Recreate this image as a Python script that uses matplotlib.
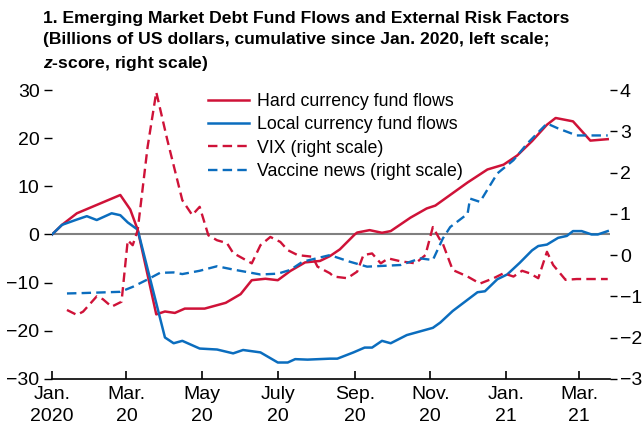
import numpy as np
import pandas as pd
import matplotlib
matplotlib.use("Agg")
import matplotlib.pyplot as plt
import matplotlib.dates as mdates

plt.rcParams['font.family'] = ['Liberation Sans', 'DejaVu Sans']
plt.rcParams['mathtext.fontset'] = 'custom'
plt.rcParams['mathtext.bfit'] = 'Liberation Sans:bold:italic'
plt.rcParams['mathtext.it'] = 'Liberation Sans:italic'

# hard currency fund flows (billions USD, left scale)
hard_dates = ["2020-01-01", "2020-01-09", "2020-01-21", "2020-02-25", "2020-03-04", "2020-03-10",
              "2020-03-25", "2020-04-01", "2020-04-09", "2020-04-17", "2020-05-03", "2020-05-20",
              "2020-06-01", "2020-06-10", "2020-06-21", "2020-07-01", "2020-07-11", "2020-07-23",
              "2020-08-04", "2020-08-12", "2020-08-20", "2020-09-01", "2020-09-03", "2020-09-13",
              "2020-09-23", "2020-09-30", "2020-10-16", "2020-10-29", "2020-11-05", "2020-12-01",
              "2020-12-17", "2020-12-30", "2021-01-10", "2021-01-22", "2021-02-03", "2021-02-10",
              "2021-02-24", "2021-03-10", "2021-03-24"]
hard_vals = [0, 2.0, 4.4, 8.2, 5.2, 1.0,
             -16.6, -16.0, -16.3, -15.4, -15.4, -14.2,
             -12.4, -9.5, -9.2, -9.5, -7.6, -5.8,
             -5.5, -4.5, -3.1, 0.0, 0.4, 0.9,
             0.35, 0.7, 3.5, 5.4, 6.0, 10.8,
             13.5, 14.5, 16.4, 19.4, 22.8, 24.2,
             23.5, 19.5, 19.8]

# local currency fund flows (billions USD, left scale)
local_dates = ["2020-01-01", "2020-01-09", "2020-01-21", "2020-01-29", "2020-02-06", "2020-02-18",
               "2020-02-25", "2020-03-02", "2020-03-10", "2020-04-01", "2020-04-08", "2020-04-15",
               "2020-04-29", "2020-05-13", "2020-05-26", "2020-06-03", "2020-06-17", "2020-07-01",
               "2020-07-09", "2020-07-15", "2020-07-25", "2020-08-12", "2020-08-18", "2020-08-31",
               "2020-09-09", "2020-09-15", "2020-09-23", "2020-09-30", "2020-10-13", "2020-11-03",
               "2020-11-09", "2020-11-19", "2020-12-09", "2020-12-15", "2020-12-25", "2021-01-02",
               "2021-01-12", "2021-01-22", "2021-01-27", "2021-02-03", "2021-02-12", "2021-02-19",
               "2021-02-24", "2021-03-03", "2021-03-11", "2021-03-16", "2021-03-24"]
local_vals = [0, 2.0, 3.1, 3.8, 3.0, 4.4,
              4.0, 2.5, 1.0, -21.4, -22.6, -22.1,
              -23.7, -23.9, -24.7, -24.0, -24.5, -26.6,
              -26.6, -25.9, -26.0, -25.8, -25.8, -24.5,
              -23.5, -23.5, -22.1, -22.6, -20.9, -19.4,
              -18.3, -15.9, -12.0, -11.8, -9.3, -8.3,
              -5.9, -3.3, -2.4, -2.1, -0.7, -0.3,
              0.7, 0.7, 0.0, 0.0, 0.7]

# VIX (z-score, right scale)
vix_dates = ["2020-01-13", "2020-01-21", "2020-01-26", "2020-02-06", "2020-02-11", "2020-02-18",
             "2020-02-26", "2020-03-02", "2020-03-06", "2020-03-10", "2020-03-18", "2020-03-25",
             "2020-04-03", "2020-04-15", "2020-04-23", "2020-04-29", "2020-05-06", "2020-05-13",
             "2020-05-21", "2020-05-26", "2020-06-10", "2020-06-17", "2020-06-25", "2020-07-03",
             "2020-07-09", "2020-07-17", "2020-07-29", "2020-08-02", "2020-08-12", "2020-08-15",
             "2020-08-26", "2020-09-03", "2020-09-08", "2020-09-15", "2020-09-22", "2020-09-28",
             "2020-10-08", "2020-10-20", "2020-10-28", "2020-11-03", "2020-11-09", "2020-11-11",
             "2020-11-19", "2020-12-01", "2020-12-11", "2020-12-22", "2020-12-30", "2021-01-07",
             "2021-01-14", "2021-01-20", "2021-01-27", "2021-02-03", "2021-02-08", "2021-02-18",
             "2021-02-27", "2021-03-24"]
vix_vals = [-1.33, -1.45, -1.37, -1.0, -1.07, -1.25,
            -1.13, 0.36, 0.24, 0.6, 2.62, 3.95,
            2.78, 1.33, 0.97, 1.17, 0.48, 0.36,
            0.29, 0.05, -0.2, 0.24, 0.44, 0.32,
            0.12, 0.0, -0.04, -0.28, -0.44, -0.52,
            -0.56, -0.4, 0.0, 0.04, -0.2, -0.08,
            -0.15, -0.2, 0.0, 0.68, 0.36, 0.28,
            -0.36, -0.52, -0.69, -0.56, -0.44, -0.52,
            -0.38, -0.44, -0.56, 0.08, -0.24, -0.6,
            -0.58, -0.58]

# vaccine news (z-score, right scale)
vac_dates = ["2020-01-13", "2020-01-26", "2020-02-25", "2020-03-06", "2020-03-18", "2020-03-28",
             "2020-04-08", "2020-04-15", "2020-04-29", "2020-05-13", "2020-05-26", "2020-06-17",
             "2020-07-01", "2020-07-11", "2020-07-21", "2020-08-12", "2020-08-28", "2020-09-11",
             "2020-10-08", "2020-10-24", "2020-11-03", "2020-11-11", "2020-11-17", "2020-12-01",
             "2020-12-03", "2020-12-11", "2020-12-25", "2021-01-07", "2021-01-18", "2021-02-03",
             "2021-02-12", "2021-02-27", "2021-03-10", "2021-03-24"]
vac_vals = [-0.93, -0.92, -0.89, -0.77, -0.59, -0.43,
            -0.42, -0.46, -0.38, -0.27, -0.35, -0.47,
            -0.45, -0.36, -0.16, 0.0, -0.16, -0.28,
            -0.24, -0.08, -0.12, 0.40, 0.68, 1.0,
            1.37, 1.29, 1.98, 2.3, 2.7, 3.19,
            3.07, 2.9, 2.9, 2.9]

tick_dates = ["2020-01-01", "2020-03-01", "2020-05-01", "2020-07-01",
              "2020-09-01", "2020-11-01", "2021-01-01", "2021-03-01"]
tick_labels = ["Jan.\n2020", "Mar.\n20", "May\n20", "July\n20",
               "Sep.\n20", "Nov.\n20", "Jan.\n21", "Mar.\n21"]

red = "#CF1238"
blue = "#0B6DBE"

fig = plt.figure(figsize=(6.43, 4.33), dpi=100)
ax = fig.add_axes([0.081, 0.125, 0.868, 0.667])
ax2 = ax.twinx()

ax.axhline(0, color="#808080", lw=1.5, zorder=1)
l1, = ax.plot(pd.to_datetime(hard_dates), hard_vals, color=red, lw=1.8, label="Hard currency fund flows")
l2, = ax.plot(pd.to_datetime(local_dates), local_vals, color=blue, lw=1.8, label="Local currency fund flows")
l3, = ax2.plot(pd.to_datetime(vix_dates), vix_vals, color=red, lw=1.7, dashes=(4, 2.2), label="VIX (right scale)")
l4, = ax2.plot(pd.to_datetime(vac_dates), vac_vals, color=blue, lw=1.7, dashes=(4, 2.2), label="Vaccine news (right scale)")

ax.set_xlim(pd.Timestamp("2020-01-01"), pd.Timestamp("2021-03-26"))
ax.set_ylim(-30, 30)
ax2.set_ylim(-3, 4)
ax.set_yticks([-30, -20, -10, 0, 10, 20, 30])
ax.set_yticklabels(["\u221230", "\u221220", "\u221210", "0", "10", "20", "30"])
ax2.set_yticks([-3, -2, -1, 0, 1, 2, 3, 4])
ax2.set_yticklabels(["\u22123", "\u22122", "\u22121", "0", "1", "2", "3", "4"])
ax.set_xticks(pd.to_datetime(tick_dates))
ax.set_xticklabels(tick_labels, linespacing=1.4)

for a in (ax, ax2):
    for s in ("top", "left", "right"):
        a.spines[s].set_visible(False)
ax2.spines["bottom"].set_visible(False)
ax.spines["bottom"].set_linewidth(1.2)

ax.tick_params(axis="x", direction="in", length=6, width=1.2, labelsize=14, pad=5)
ax.tick_params(axis="y", direction="out", length=6, width=1.0, labelsize=14, pad=3)
ax2.tick_params(axis="y", direction="out", length=5, width=1.0, labelsize=14, pad=2)

ax.legend(handles=[l1, l2, l3, l4], loc="upper left", bbox_to_anchor=(0.267, 1.015),
          frameon=False, fontsize=12.8, handlelength=2.3, handletextpad=0.45,
          labelspacing=0.36, borderaxespad=0)

fig.text(0.067, 0.975, "1. Emerging Market Debt Fund Flows and External Risk Factors\n"
         "(Billions of US dollars, cumulative since Jan. 2020, left scale;\n"
         "$\\mathbfit{z}$-score, right scale)",
         ha="left", va="top", fontsize=12.6, fontweight="bold", linespacing=1.5)

fig.savefig("out.png", dpi=100)
